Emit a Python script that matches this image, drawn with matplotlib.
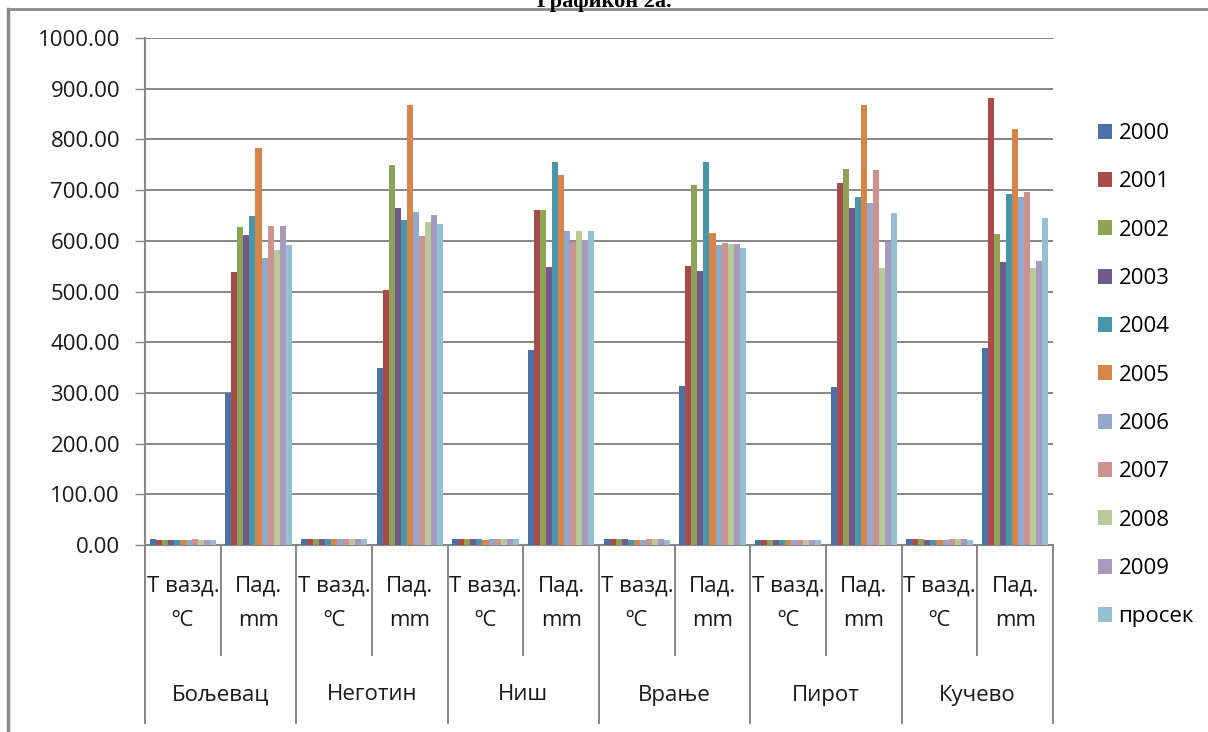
import numpy as np
import matplotlib
matplotlib.use('Agg')
import matplotlib.pyplot as plt
from matplotlib.lines import Line2D
from matplotlib.ticker import FormatStrFormatter

# Серије: године и просек
series = ['2000', '2001', '2002', '2003', '2004', '2005',
          '2006', '2007', '2008', '2009', 'просек']
colors = ['#4a72a8', '#a84b4a', '#8fa357', '#725a8c', '#4796aa', '#d8854a',
          '#94a8cd', '#cd9393', '#b9ca98', '#a69bbf', '#93bfd1']

cities = ['Бољевац', 'Неготин', 'Ниш', 'Врање', 'Пирот', 'Кучево']
var_line1 = ['Т вазд.', 'Пад.']
var_line2 = ['ºC', 'mm']

# температура ваздуха (ºC) по годинама, 2000-2009 и просек
temp_boljevac = [10.9, 10.7, 10.8, 9.4, 9.5, 9.2, 9.6, 11.3, 9.7, 9.8, 9.9]
temp_negotin = [12.1, 12.0, 12.0, 11.6, 11.7, 11.4, 11.8, 12.6, 12.3, 12.4, 11.8]
temp_nis = [12.4, 12.0, 12.1, 11.6, 11.8, 9.6, 11.7, 12.8, 12.5, 12.3, 11.9]
temp_vranje = [11.4, 11.2, 11.0, 10.9, 9.5, 9.2, 9.6, 11.6, 11.3, 11.2, 10.8]
temp_pirot = [9.8, 9.6, 9.5, 9.2, 9.3, 8.9, 9.4, 9.9, 9.7, 9.6, 9.4]
temp_kucevo = [11.2, 10.9, 11.0, 10.6, 9.4, 9.1, 9.5, 11.5, 11.1, 11.0, 10.7]

# падавине (mm) по годинама, 2000-2009 и просек
prec_boljevac = [300, 539, 627, 612, 649, 783, 566, 629, 582, 629, 592]
prec_negotin = [350, 503, 749, 665, 641, 867, 656, 610, 637, 650, 633]
prec_nis = [385, 660, 660, 549, 755, 729, 619, 598, 619, 601, 619]
prec_vranje = [314, 550, 710, 541, 755, 615, 591, 595, 593, 593, 585]
prec_pirot = [311, 714, 741, 664, 686, 867, 674, 739, 546, 598, 654]
prec_kucevo = [388, 881, 613, 558, 692, 820, 686, 696, 546, 560, 645]

temps = [temp_boljevac, temp_negotin, temp_nis, temp_vranje, temp_pirot, temp_kucevo]
precs = [prec_boljevac, prec_negotin, prec_nis, prec_vranje, prec_pirot, prec_kucevo]

# 12 категорија: за сваки град температура па падавине
values = []
for t, p in zip(temps, precs):
    values.append(t)
    values.append(p)
values = np.array(values)          # облик (12, 11)

W, H = 1208, 732
plt.rcParams['font.family'] = ['Open Sans', 'DejaVu Sans']
fig = plt.figure(figsize=(W / 100, H / 100), dpi=100)
fig.patch.set_facecolor('white')

left, right, top, bottom = 145, 1053, 38, 545
ax = fig.add_axes([left / W, (H - bottom) / H, (right - left) / W, (bottom - top) / H])

grid_col = '#878787'
txt_col = '#1a1a1a'
fs = 16
n_cat, n_ser = values.shape
x = np.arange(n_cat)
group_w = 0.88
bar_w = group_w / n_ser
handles = []
for j in range(n_ser):
    xs = x - group_w / 2 + bar_w * (j + 0.5)
    b = ax.bar(xs, values[:, j], width=bar_w, color=colors[j], linewidth=0, zorder=3)
    handles.append(b)

ax.set_xlim(-0.5, n_cat - 0.5)
ax.set_ylim(0, 1000)
ax.set_yticks(np.arange(0, 1001, 100))
ax.yaxis.set_major_formatter(FormatStrFormatter('%.2f'))
ax.tick_params(axis='y', direction='out', length=7, width=1, color=grid_col,
               labelsize=fs, labelcolor=txt_col, pad=11)
ax.set_xticks([])
ax.grid(axis='y', color=grid_col, linewidth=1.4, zorder=0)
for s in ['top', 'right']:
    ax.spines[s].set_visible(False)
for s in ['left', 'bottom']:
    ax.spines[s].set_color(grid_col)
    ax.spines[s].set_linewidth(1.5)

# вишестепене ознаке категорија испод осе
axh = bottom - top
def ay(px):
    return (bottom - px) / axh

tr = ax.get_xaxis_transform()
for k in range(n_cat + 1):
    xe = k - 0.5
    y_end = 723 if k % 2 == 0 else 655
    ax.add_line(Line2D([xe, xe], [0, ay(y_end)], transform=tr, color=grid_col,
                       linewidth=1.4, clip_on=False))
for i in range(n_cat):
    ax.text(i, ay(586), var_line1[i % 2], transform=tr, ha='center', va='center',
            fontsize=fs, color=txt_col)
    ax.text(i, ay(621), var_line2[i % 2], transform=tr, ha='center', va='center',
            fontsize=fs, color=txt_col)
for c, name in enumerate(cities):
    ax.text(2 * c + 0.5, ay(695), name, transform=tr, ha='center', va='center',
            fontsize=fs, color=txt_col)

fig.legend(handles, series, loc='upper left', bbox_to_anchor=(1098 / W, 1 - 123 / H),
           frameon=False, fontsize=fs, handlelength=0.65, handleheight=0.65,
           handletextpad=0.27, labelspacing=1.23, borderpad=0, borderaxespad=0)

# оквир и наслов
fig.add_artist(Line2D([8 / W, 1], [1 - 9 / H, 1 - 9 / H], transform=fig.transFigure,
                      color='#8a8a8a', linewidth=2))
fig.add_artist(Line2D([8 / W, 8 / W], [0, 1 - 9 / H], transform=fig.transFigure,
                      color='#8a8a8a', linewidth=2.5))
fig.text(0.5, 1 - 7 / H, 'Графикон 2а.', ha='center', va='baseline',
         family='Liberation Serif', fontweight='bold', fontsize=16)

fig.savefig('out.png', dpi=100, facecolor='white')
